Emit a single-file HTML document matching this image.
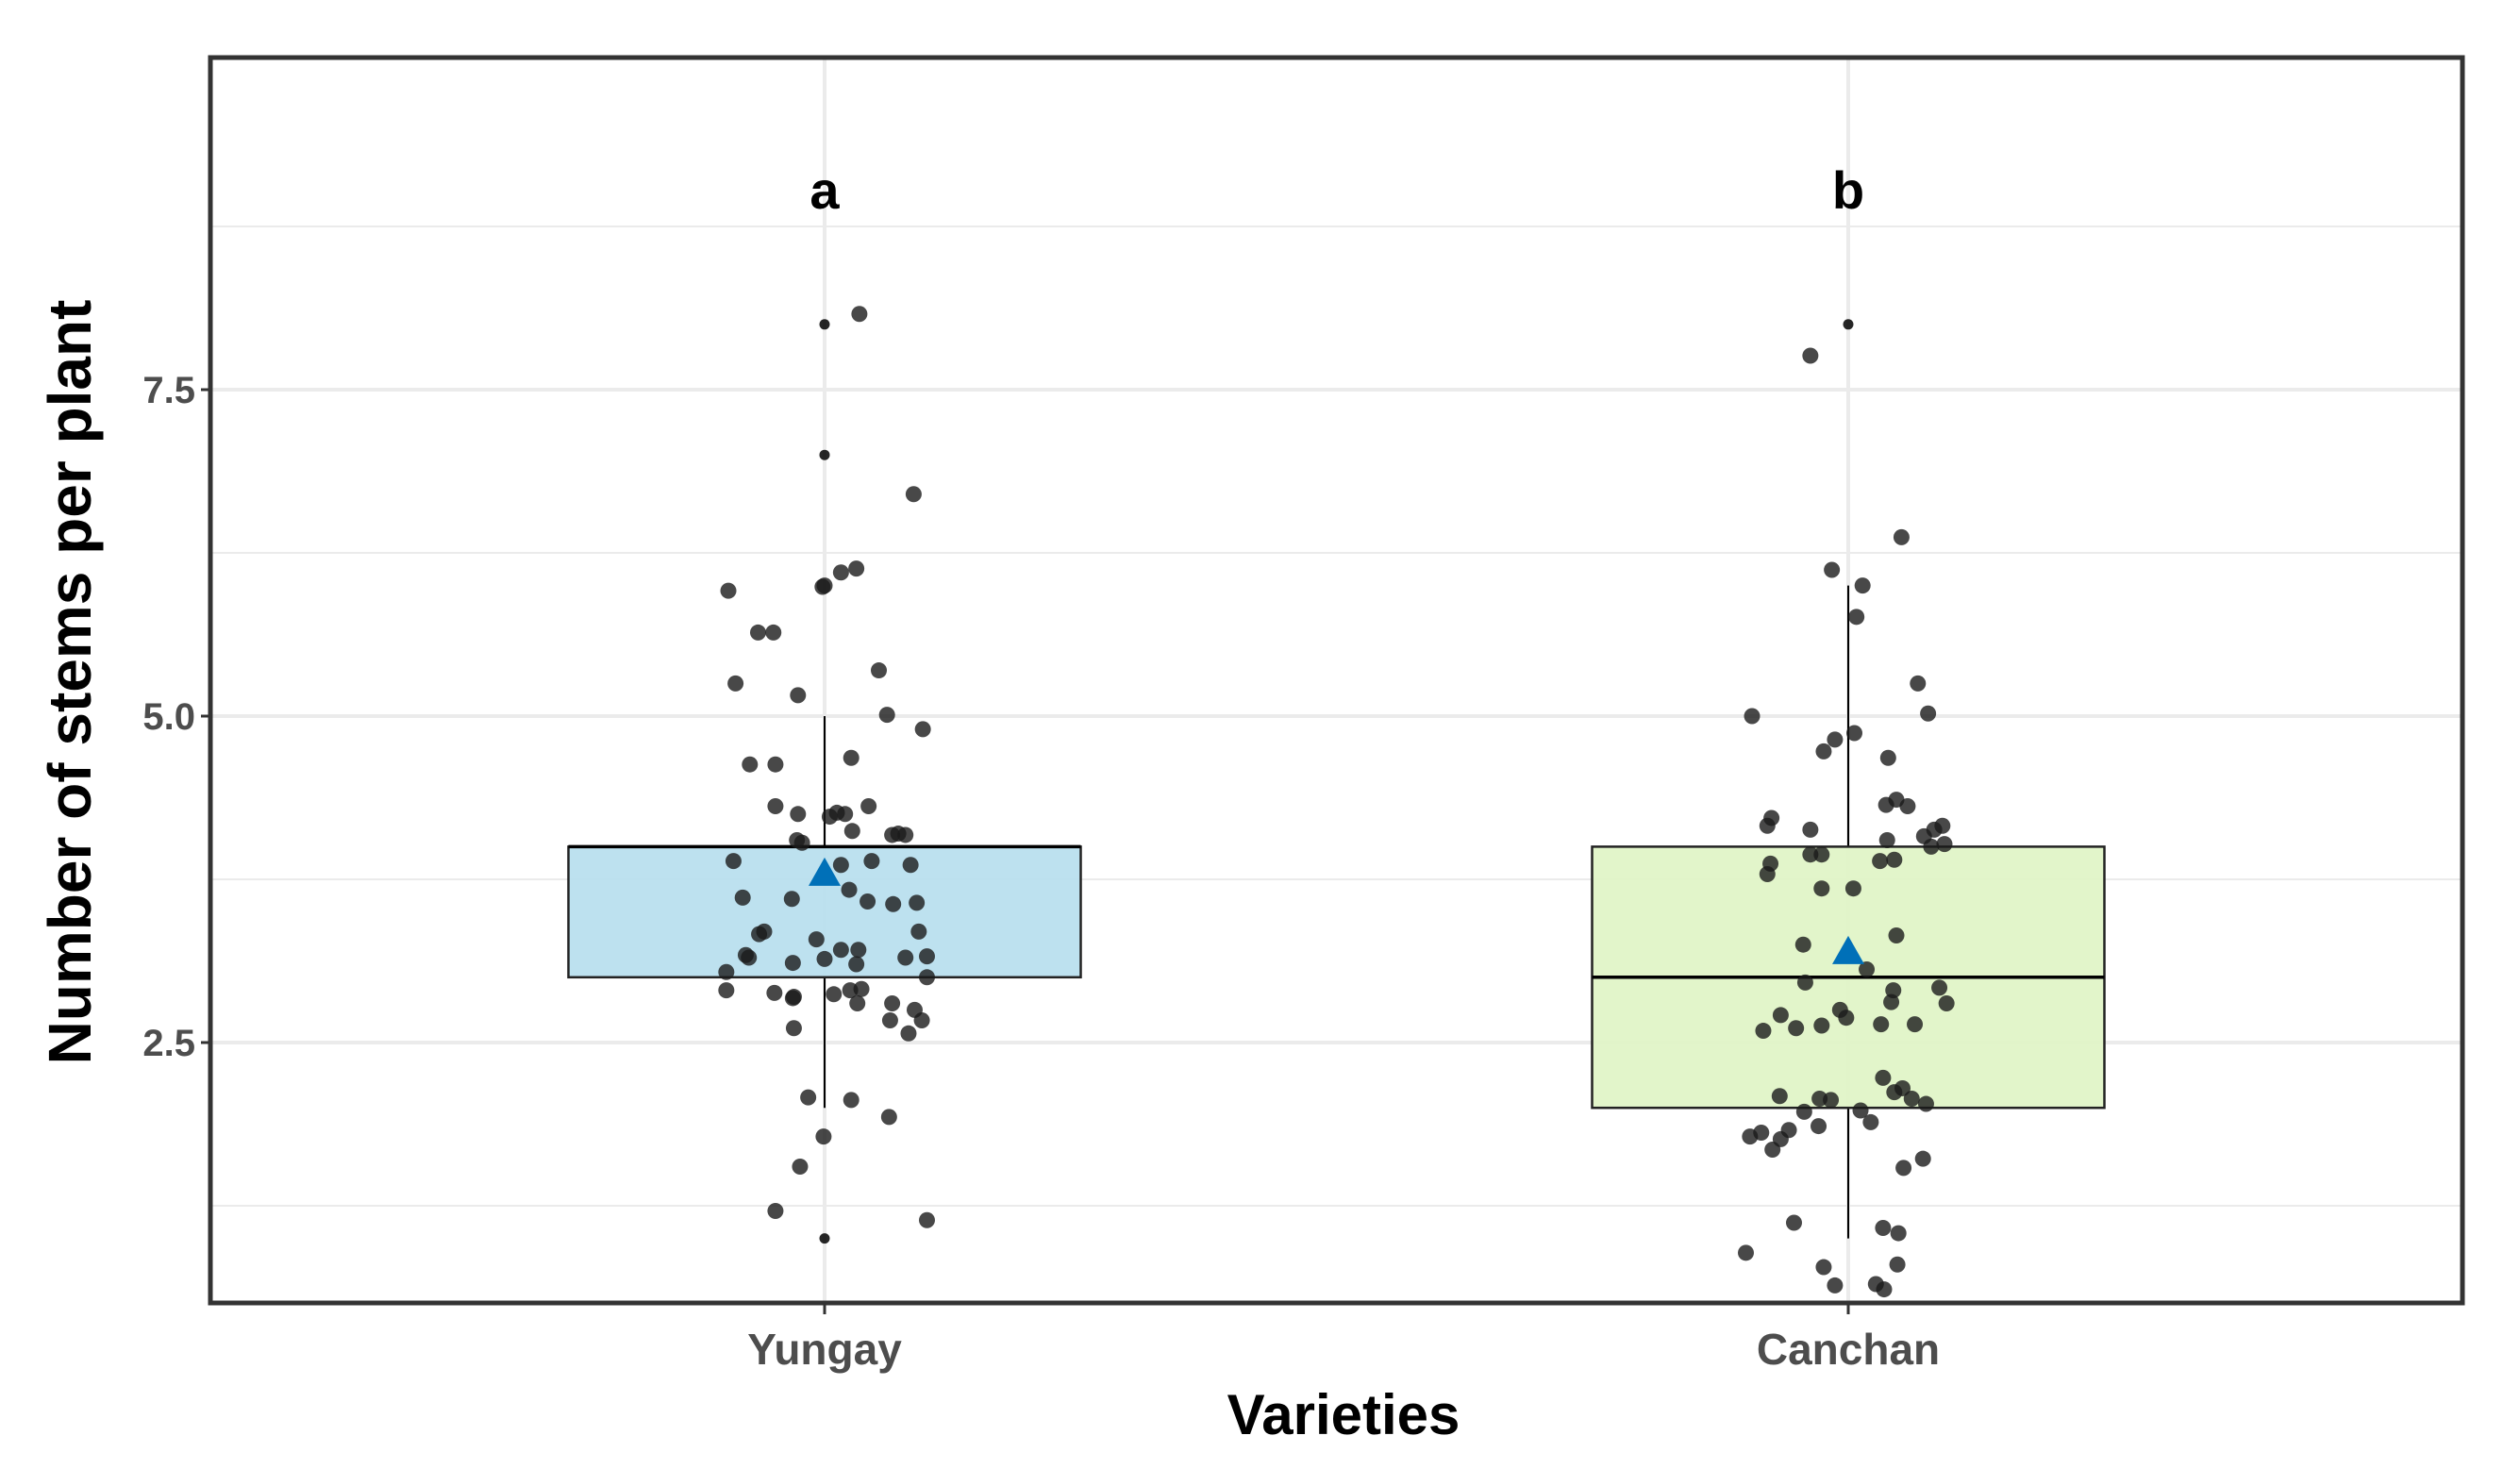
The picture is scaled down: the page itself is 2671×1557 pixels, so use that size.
<!DOCTYPE html>
<html><head><meta charset="utf-8"><style>
html,body{margin:0;padding:0;background:#fff;}
svg{display:block;}
text{font-family:"Liberation Sans",Arial,sans-serif;font-weight:bold;}
</style></head><body>
<svg id="chart" width="2671" height="1557" viewBox="0 0 2671 1557" xmlns="http://www.w3.org/2000/svg">
<g id="grid"></g>
<g id="boxes"></g>
<g id="points"></g>
<g id="axes"></g>
</svg>
<script>
const categories = ["Yungay", "Canchan"];
const letters = ["a", "b"];
const q1 = [3, 2];
const median = [4, 3];
const q3 = [4, 4];
const whiskLo = [2, 1];
const whiskHi = [5, 6];
const means = [3.78, 3.18];
const fills = ["#b9dfee", "#e0f4c7"];
const outliers0 = [8, 7, 1];
const outliers1 = [8];
const yTicks = [2.5, 5.0, 7.5];
const yTickLabels = ["2.5", "5.0", "7.5"];
const yMinor = [1.25, 3.75, 6.25, 8.75];
const vals0 = [8.08,6.70,5.96,5.99,6.00,6.10,6.13,5.64,5.64,5.25,5.16,5.35,5.01,4.90,4.63,4.63,4.68,4.31,4.25,4.31,4.23,4.26,4.25,4.12,4.09,4.10,4.09,4.05,4.03,3.89,3.86,3.89,3.86,3.61,3.60,3.67,3.58,3.56,3.57,3.33,3.35,3.29,3.21,3.21,3.35,3.17,3.15,3.11,3.14,3.10,3.15,3.16,3.04,3.00,2.90,2.88,2.85,2.84,2.87,2.90,2.91,2.80,2.80,2.75,2.67,2.67,2.61,2.57,2.08,2.06,1.93,1.78,1.55,1.21,1.14];
const jit0 = [0.034,0.087,-0.094,-0.002,0,0.016,0.031,-0.065,-0.050,-0.087,-0.026,0.053,0.061,0.096,-0.073,-0.048,0.026,-0.048,-0.026,0.043,0.005,0.012,0.020,0.027,0.066,0.072,0.079,-0.027,-0.022,-0.089,0.016,0.046,0.084,-0.080,-0.032,0.024,0.042,0.067,0.090,-0.064,-0.059,-0.008,0.016,0.033,0.092,-0.077,-0.074,-0.031,0,0.031,0.079,0.100,-0.096,0.100,-0.096,-0.049,-0.030,-0.031,0.009,0.025,0.036,0.032,0.066,0.088,0.064,0.095,-0.030,0.082,-0.016,0.026,0.063,-0.001,-0.024,-0.048,0.100];
const vals1 = [7.76,6.37,6.12,6.00,5.76,5.25,5.00,5.02,4.82,4.87,4.73,4.68,4.32,4.36,4.31,4.22,4.16,4.13,4.13,4.16,4.08,4.05,4.00,4.02,3.94,3.94,3.89,3.90,3.87,3.79,3.68,3.68,3.25,3.32,3.06,2.96,2.90,2.81,2.92,2.80,2.71,2.75,2.69,2.59,2.61,2.63,2.64,2.64,2.23,2.09,2.07,2.06,2.12,2.15,2.07,2.03,1.97,1.98,1.89,1.86,1.78,1.81,1.83,1.76,1.68,1.61,1.54,1.12,1.08,1.04,0.89,0.78,0.80,0.64,0.65,0.61];
const jit1 = [-0.037,0.052,-0.016,0.014,0.008,0.068,-0.094,0.078,-0.013,0.006,-0.024,0.039,0.037,0.047,0.058,-0.075,-0.079,-0.037,0.084,0.092,0.074,0.038,0.081,0.094,-0.037,-0.026,0.031,0.045,-0.076,-0.079,-0.026,0.005,-0.044,0.047,0.018,-0.042,0.044,0.042,0.089,0.096,-0.066,-0.008,-0.002,-0.083,-0.051,-0.026,0.032,0.065,0.034,-0.067,-0.028,-0.017,0.045,0.053,0.062,0.076,-0.043,0.012,0.022,-0.029,-0.096,-0.085,-0.058,-0.066,-0.074,0.073,0.054,-0.053,0.034,0.049,-0.100,-0.024,0.048,-0.013,0.027,0.035];

const NS="http://www.w3.org/2000/svg";
const L=223,R=2610,T=61,B=1381;
function xs(p){return L+(p-0.4)/2.2*(R-L);}
function ys(v){return 1105-(v-2.5)*138.4;}
function mk(parent,tag,attrs,txt){const e=document.createElementNS(NS,tag);for(const k in attrs)e.setAttribute(k,attrs[k]);if(txt!==undefined)e.textContent=txt;document.getElementById(parent).appendChild(e);return e;}

yMinor.forEach(v=>{const e=mk('grid','line',{x1:L,x2:R,y1:ys(v),y2:ys(v),stroke:'#ebebeb','stroke-width':2});

});
yTicks.forEach(v=>{const e=mk('grid','line',{x1:L,x2:R,y1:ys(v),y2:ys(v),stroke:'#ebebeb','stroke-width':4});

});
categories.forEach((c,i)=>{const e=mk('grid','line',{x1:xs(i+1),x2:xs(i+1),y1:T,y2:B,stroke:'#ebebeb','stroke-width':4});

});

const hw=0.25*1086;
categories.forEach((c,i)=>{
 const cx=xs(i+1);
 const w1=mk('boxes','line',{x1:cx,x2:cx,y1:ys(whiskHi[i]),y2:ys(q3[i]),stroke:'#000','stroke-width':2});
 
 
 const w2=mk('boxes','line',{x1:cx,x2:cx,y1:ys(q1[i]),y2:ys(whiskLo[i]),stroke:'#000','stroke-width':2});
 
 
 const b=mk('boxes','rect',{x:cx-hw,y:ys(q3[i]),width:2*hw,height:ys(q1[i])-ys(q3[i]),fill:fills[i],'fill-opacity':0.95,stroke:'#222','stroke-width':2.5});
 
 
 const m=mk('boxes','line',{x1:cx-hw,x2:cx+hw,y1:ys(median[i]),y2:ys(median[i]),stroke:'#000','stroke-width':3.5});
 
 
 const lt=mk('axes','text',{x:cx,y:221,'text-anchor':'middle','font-size':56,fill:'#000'},letters[i]);
 
 
});
[outliers0,outliers1].forEach((arr,i)=>arr.forEach(v=>{
 const e=mk('points','circle',{cx:xs(i+1),cy:ys(v),r:5.5,fill:'#000','fill-opacity':0.85});
 
 
}));
[[vals0,jit0],[vals1,jit1]].forEach(([vs,js],i)=>vs.forEach((v,k)=>{
 const e=mk('points','circle',{cx:xs(i+1+js[k]),cy:ys(v),r:8.5,fill:'#1a1a1a','fill-opacity':0.8});
 
 
}));
means.forEach((v,i)=>{
 const cx=xs(i+1),cy=ys(v);
 const e=mk('points','polygon',{points:`${cx},${cy-19} ${cx-17},${cy+11} ${cx+17},${cy+11}`,fill:'#0070b8'});
 
 
});

const pb=mk('axes','rect',{x:L,y:T,width:R-L,height:B-T,fill:'none',stroke:'#333','stroke-width':5});


yTicks.forEach((v,k)=>{
 const t=mk('axes','line',{x1:L-10,x2:L,y1:ys(v),y2:ys(v),stroke:'#333','stroke-width':3});
 
 
 const l=mk('axes','text',{x:L-16,y:ys(v)+14,'text-anchor':'end','font-size':40,fill:'#4d4d4d'},yTickLabels[k]);
 
 
});
categories.forEach((c,i)=>{
 const t=mk('axes','line',{x1:xs(i+1),x2:xs(i+1),y1:B,y2:B+12,stroke:'#333','stroke-width':3});
 
 
 const l=mk('axes','text',{x:xs(i+1),y:1446,'text-anchor':'middle','font-size':46,fill:'#4d4d4d'},c);
 
 
});
const xt=mk('axes','text',{x:1424,y:1520,'text-anchor':'middle','font-size':60,fill:'#000'},'Varieties');


const yt=mk('axes','text',{x:0,y:0,'text-anchor':'middle','font-size':64,fill:'#000',transform:'translate(96,723) rotate(-90)'},'Number of stems per plant');


</script>
</body></html>
